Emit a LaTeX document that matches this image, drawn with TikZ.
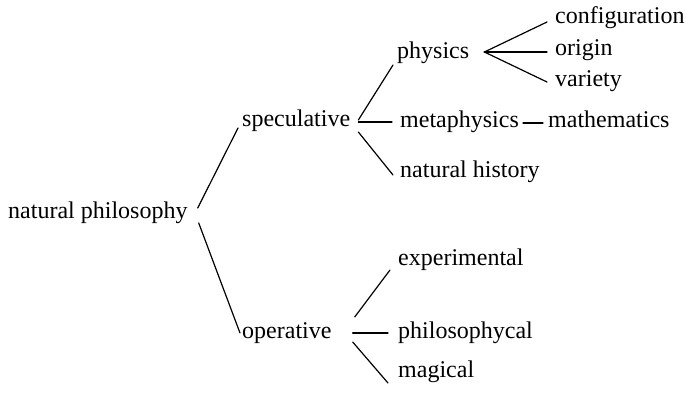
\documentclass[tikz,border=0pt]{standalone}
\usepackage{fontspec}
\setmainfont{Liberation Serif}
\usetikzlibrary{calc}

\tikzset{
  term/.style={anchor=base west, inner sep=0pt, font=\fontsize{24}{28}\selectfont},
  branch/.style={line width=1.2pt, line cap=round}
}

\begin{document}
\begin{tikzpicture}[x=1pt, y=-1pt]
  \useasboundingbox (0,0) rectangle (686,394);

  % Root
  \node[term] (np) at (8,218) {natural philosophy};

  % Speculative branch
  \node[term] (spec) at (242,126) {speculative};
  \node[term] (phys) at (397,58) {physics};
  \node[term] (meta) at (400,127) {metaphysics};
  \node[term] (math) at (548,127) {mathematics};
  \node[term] (nathist) at (400,177) {natural history};
  \node[term] (config) at (555,23) {configuration};
  \node[term] (origin) at (555,55) {origin};
  \node[term] (variety) at (555,86) {variety};

  % Operative branch
  \node[term] (oper) at (242,338) {operative};
  \node[term] (exper) at (398,265) {experimental};
  \node[term] (philo) at (398,338) {philosophycal};
  \node[term] (magic) at (398,377) {magical};

  % Root fork
  \draw[branch] ([shift={(10,-10)}]np.base east) -- ([shift={(-4,2)}]spec.base west);
  \draw[branch] ([shift={(11,5)}]np.base east) -- ([shift={(-2,-5)}]oper.base west);

  % Speculative fork
  \draw[branch] ([shift={(8,-6)}]spec.base east) -- ([shift={(-4,7)}]phys.base west);
  \draw[branch] ([shift={(8,-4)}]spec.base east) -- ([shift={(-8,-5)}]meta.base west);
  \draw[branch] ([shift={(8,6)}]spec.base east) -- ([shift={(-7,-2)}]nathist.base west);
  \draw[branch] ([shift={(4,-4)}]meta.base east) -- ([shift={(-5,-4)}]math.base west);

  % Physics fork
  \draw[branch] ([shift={(-8,-1)}]config.base west) -- ([shift={(15,-6)}]phys.base east)
    -- ([shift={(-8,-4)}]variety.base west);
  \draw[branch] ([shift={(15,-6)}]phys.base east) -- ([shift={(-8,-3)}]origin.base west);

  % Operative fork
  \draw[branch] ([shift={(23,-21)}]oper.base east) -- ([shift={(-8,5)}]exper.base west);
  \draw[branch] ([shift={(21,-5)}]oper.base east) -- ([shift={(-10,-5)}]philo.base west);
  \draw[branch] ([shift={(21,4)}]oper.base east) -- ([shift={(-10,6)}]magic.base west);
\end{tikzpicture}
\end{document}
